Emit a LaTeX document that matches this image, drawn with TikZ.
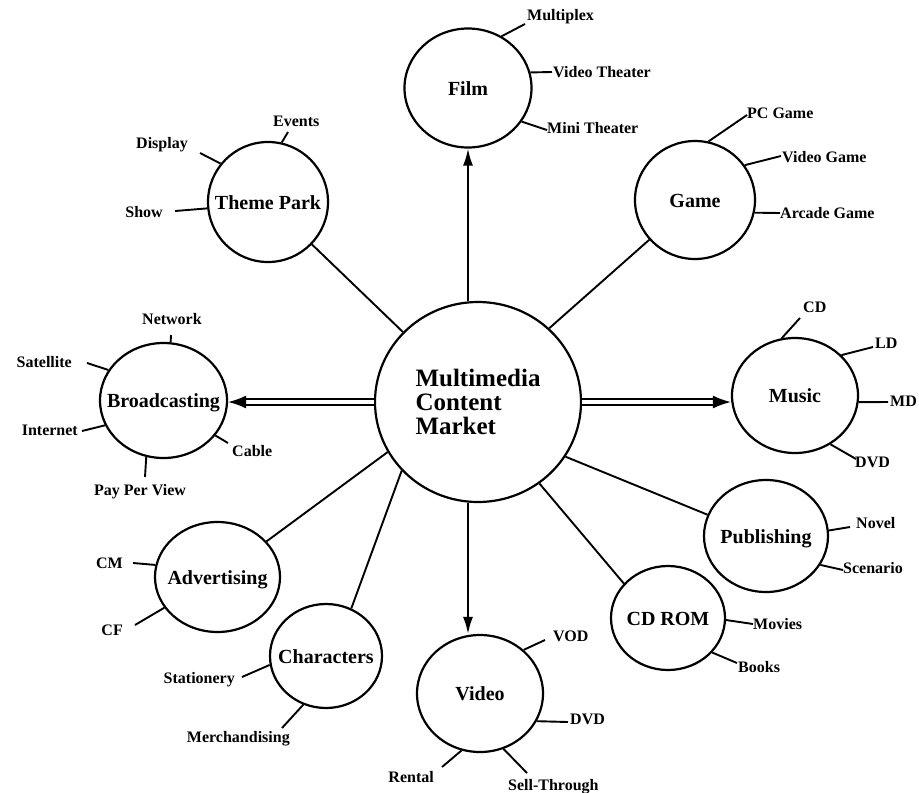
\documentclass[tikz,border=0pt]{standalone}
\usepackage{fontspec}
\setmainfont{Liberation Serif}
\usetikzlibrary{shapes.geometric,arrows.meta}
\begin{document}
\begin{tikzpicture}[x=1pt,y=-1pt,
  topic/.style={ellipse, draw, line width=2.2pt, inner sep=0pt,
    text height=14pt, text depth=0pt,
    font=\fontsize{20}{20}\selectfont\bfseries},
  hub/.style={ellipse, draw, line width=2.2pt, inner sep=0pt, align=left,
    minimum width=206pt, minimum height=200pt,
    font=\fontsize{25}{24}\selectfont\bfseries},
  leaf/.style={inner sep=0pt, text height=11pt, text depth=0pt,
    font=\fontsize{16}{16}\selectfont\bfseries},
  twig/.style={line width=1.9pt},
  spoke/.style={line width=1.9pt},
  feed/.style={line width=1.9pt, -{Latex[length=17pt,width=10pt]}},
  wide/.style={line width=1.7pt, double distance=4pt, -{Latex[length=18pt,width=13pt]}}
]
\useasboundingbox[fill=white] (0,0) rectangle (919,793);

% central market
\node[hub] (hub) at (478,402) {Multimedia\\Content\\Market};

% topic circles
\node[topic, minimum width=127pt, minimum height=119pt] (film)  at (468,88)    {\makebox[0pt]{Film}};
\node[topic, minimum width=120pt, minimum height=120pt] (theme) at (268,202)   {\makebox[0pt]{Theme Park}};
\node[topic, minimum width=120pt, minimum height=118pt] (game)  at (695,200)   {\makebox[0pt]{Game}};
\node[topic, minimum width=127pt, minimum height=115pt] (broad) at (163.5,400.5) {\makebox[0pt]{Broadcasting}};
\node[topic, minimum width=126pt, minimum height=115pt] (music) at (795,395.5) {\makebox[0pt]{Music}};
\node[topic, minimum width=124pt, minimum height=112pt] (pub)   at (766,536)   {\makebox[0pt]{Publishing}};
\node[topic, minimum width=114pt, minimum height=104pt] (cdrom) at (668,618)   {\makebox[0pt]{CD ROM}};
\node[topic, minimum width=126pt, minimum height=117pt] (video) at (480,693.5) {\makebox[0pt]{Video}};
\node[topic, minimum width=112pt, minimum height=104pt] (chars) at (326,656)   {\makebox[0pt]{Characters}};
\node[topic, minimum width=125pt, minimum height=110pt] (adv)   at (217.5,577) {\makebox[0pt]{Advertising}};

% spokes from the market
\draw[feed] (hub.north -| film.south) -- (film.south);
\draw[feed] (hub.south -| film.south) -- (video.north -| film.south);
\draw[wide] (hub.west) -- (hub.west -| broad.east);
\draw[wide] (hub.east) -- (hub.east -| music.west);
\draw[spoke] (hub.137) -- (theme.-44);
\draw[spoke] (hub.46) -- (game.221);
\draw[spoke] (hub.209) -- (adv.36);
\draw[spoke] (hub.222) -- (chars.62);
\draw[spoke] (hub.-53.5) -- (cdrom.142);
\draw[spoke] (hub.-32) -- (pub.160);

% Film
\node[leaf, anchor=west] (multiplex) at (527,15) {Multiplex};
\node[leaf, anchor=west] (vtheater) at (553,72) {Video Theater};
\node[leaf, anchor=west] (mtheater) at (547,128) {Mini Theater};
\coordinate (multiplexend) at (525,24);
\coordinate (vtheaterend) at (552,72);
\coordinate (mtheaterend) at (547,130);
\draw[twig] (film.57) -- (multiplexend);
\draw[twig] (film.14) -- (vtheaterend);
\draw[twig] (film.-32) -- (mtheaterend);

% Theme Park
\node[leaf, anchor=west] (events) at (273,121) {Events};
\node[leaf, anchor=east] (display) at (188,143) {Display};
\node[leaf, anchor=east] (show) at (163,212) {Show};
\coordinate (eventsend) at (288,132);
\coordinate (displayend) at (200,153);
\coordinate (showend) at (175,211);
\draw[twig] (theme.77) -- (eventsend);
\draw[twig] (theme.141) -- (displayend);
\draw[twig] (theme.186) -- (showend);

% Game
\node[leaf, anchor=west] (pcgame) at (747,113) {PC Game};
\node[leaf, anchor=west] (vgame) at (782,157) {Video Game};
\node[leaf, anchor=west] (agame) at (780,213) {Arcade Game};
\coordinate (pcgameend) at (747,115);
\coordinate (vgameend) at (781,156);
\coordinate (agameend) at (780,213);
\draw[twig] (game.77) -- (pcgameend);
\draw[twig] (game.35) -- (vgameend);
\draw[twig] (game.-12) -- (agameend);

% Broadcasting
\node[leaf, anchor=west] (network) at (142,319) {Network};
\node[leaf, anchor=east] (satellite) at (72,362) {Satellite};
\node[leaf, anchor=east] (internet) at (78,430) {Internet};
\node[leaf, anchor=west] (cable) at (232,451) {Cable};
\node[leaf] (ppv) at (140,490) {Pay Per View};
\coordinate (networkend) at (171,335);
\coordinate (satelliteend) at (87,363);
\coordinate (internetend) at (82,431);
\coordinate (cableend) at (228,443);
\coordinate (ppvend) at (145,477);
\draw[twig] (broad.83) -- (networkend);
\draw[twig] (broad.151) -- (satelliteend);
\draw[twig] (broad.203) -- (internetend);
\draw[twig] (broad.-34) -- (cableend);
\draw[twig] (broad.253) -- (ppvend);

% Music
\node[leaf, anchor=west] (cd) at (803,307) {CD};
\node[leaf, anchor=west] (ld) at (875,343) {LD};
\node[leaf, anchor=west] (md) at (890,401) {MD};
\node[leaf, anchor=west] (mdvd) at (855,462) {DVD};
\coordinate (cdend) at (800,318);
\coordinate (ldend) at (873,347);
\coordinate (mdend) at (888,402);
\coordinate (mdvdend) at (856,459);
\draw[twig] (music.103) -- (cdend);
\draw[twig] (music.41) -- (ldend);
\draw[twig] (music.-6) -- (mdend);
\draw[twig] (music.-54) -- (mdvdend);

% Publishing
\node[leaf, anchor=west] (novel) at (856,523) {Novel};
\node[leaf, anchor=west] (scenario) at (843,568) {Scenario};
\coordinate (novelend) at (850,527);
\coordinate (scenarioend) at (843,570);
\draw[twig] (pub.5.5) -- (novelend);
\draw[twig] (pub.-28) -- (scenarioend);

% CD ROM
\node[leaf, anchor=west] (movies) at (753,624) {Movies};
\node[leaf, anchor=west] (books) at (738,667) {Books};
\coordinate (moviesend) at (753,624);
\coordinate (booksend) at (737,663);
\draw[twig] (cdrom.-2) -- (moviesend);
\draw[twig] (cdrom.-38.5) -- (booksend);

% Video
\node[leaf, anchor=west] (vod) at (553,636) {VOD};
\node[leaf, anchor=west] (vdvd) at (570,719) {DVD};
\node[leaf, anchor=east] (rental) at (434,777) {Rental};
\node[leaf, anchor=west] (sell) at (508,785) {Sell-Through};
\coordinate (vodend) at (545,640);
\coordinate (vdvdend) at (568,722);
\coordinate (rentalend) at (442,767);
\coordinate (sellend) at (527,773);
\draw[twig] (video.45) -- (vodend);
\draw[twig] (video.-26.6) -- (vdvdend);
\draw[twig] (video.252) -- (rentalend);
\draw[twig] (video.-67) -- (sellend);

% Advertising
\node[leaf, anchor=east] (cm) at (123,563) {CM};
\node[leaf, anchor=east] (cf) at (123,630) {CF};
\coordinate (cmend) at (133,563);
\coordinate (cfend) at (135,625);
\draw[twig] (adv.169) -- (cmend);
\draw[twig] (adv.210.6) -- (cfend);

% Characters
\node[leaf, anchor=east] (stationery) at (235,678) {Stationery};
\node[leaf, anchor=east] (merch) at (290,737) {Merchandising};
\coordinate (stationeryend) at (242,677);
\coordinate (merchend) at (282,728);
\draw[twig] (chars.189) -- (stationeryend);
\draw[twig] (chars.245) -- (merchend);
\end{tikzpicture}
\end{document}
